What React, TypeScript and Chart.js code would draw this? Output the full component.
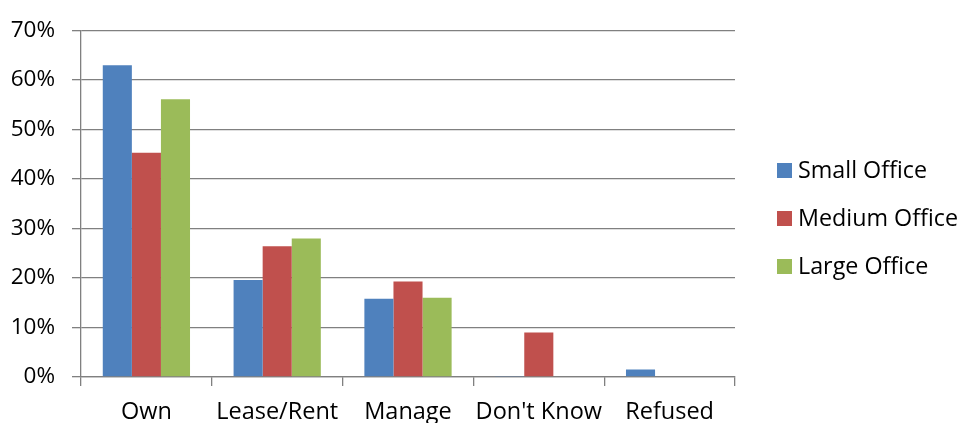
import React, { useEffect, useRef } from "react";
import { Chart, registerables } from "chart.js";

Chart.register(...registerables);

const categories = ["Own", "Lease/Rent", "Manage", "Don't Know", "Refused"];
const seriesNames = ["Small Office", "Medium Office", "Large Office"];
const smallOffice = [63.0, 19.6, 15.8, 0.2, 1.5];
const mediumOffice = [45.3, 26.4, 19.3, 9.0, 0];
const largeOffice = [56.1, 28.0, 16.0, 0, 0];
const seriesColors = ["#4F81BD", "#C0504D", "#9BBB59"];
const yTicks = [0, 10, 20, 30, 40, 50, 60, 70];

const FONT = "'Open Sans', sans-serif";
const Y_FONT_SIZE = 22.5;
const X_FONT_SIZE = 23.5;
const LEGEND_FONT_SIZE = 23.3;
const GRID_COLOR = "#808080";

const legendPlugin = {
  id: "customLegend",
  afterDraw(chart: any) {
    const ctx = chart.ctx;
    ctx.save();
    ctx.font = `${LEGEND_FONT_SIZE}px ${FONT}`;
    ctx.textBaseline = "middle";
    ctx.textAlign = "left";
    const x0 = 777;
    const yStart = 170;
    const step = 48;
    chart.data.datasets.forEach((ds: any, i: number) => {
      const y = yStart + i * step;
      ctx.fillStyle = ds.backgroundColor;
      ctx.fillRect(x0, y - 7, 15, 15);
      ctx.fillStyle = "#000";
      ctx.fillText(ds.label, x0 + 21, y + 1);
    });
    ctx.restore();
  },
};

export default function App() {
  const ref = useRef<HTMLCanvasElement | null>(null);
  useEffect(() => {
    if (!ref.current) return;
    const chart = new Chart(ref.current, {
      type: "bar",
      data: {
        labels: categories,
        datasets: [smallOffice, mediumOffice, largeOffice].map((d, i) => ({
          label: seriesNames[i],
          data: d,
          backgroundColor: seriesColors[i],
          borderWidth: 0,
          barPercentage: 1,
          categoryPercentage: 0.667,
        })),
      },
      options: {
        responsive: false,
        animation: false,
        layout: { padding: { left: 0, right: 226, top: 24, bottom: 0 } },
        plugins: {
          legend: { display: false },
          tooltip: { enabled: false },
        },
        scales: {
          x: {
            grid: {
              drawOnChartArea: false,
              drawTicks: true,
              tickLength: 9,
              color: GRID_COLOR,
              lineWidth: 1.3,
            },
            border: { color: GRID_COLOR, width: 1.3 },
            ticks: {
              color: "#000",
              font: { family: FONT, size: X_FONT_SIZE },
              padding: 12,
              maxRotation: 0,
              autoSkip: false,
            },
            afterFit(scale: any) {
              scale.height = 46;
            },
          },
          y: {
            min: 0,
            max: 70,
            afterBuildTicks(scale: any) {
              scale.ticks = yTicks.map((v) => ({ value: v }));
            },
            grid: {
              drawTicks: true,
              tickLength: 9,
              color: GRID_COLOR,
              lineWidth: 1.3,
            },
            border: { color: GRID_COLOR, width: 1.3 },
            ticks: {
              color: "#000",
              font: { family: FONT, size: Y_FONT_SIZE },
              padding: 17,
              callback: (v: any) => `${v}%`,
            },
            afterFit(scale: any) {
              scale.width = 81;
            },
          },
        },
      },
      plugins: [legendPlugin],
    });
    return () => chart.destroy();
  }, []);
  return (
    <div style={{ position: "fixed", left: 0, top: 0, width: 961, height: 423, background: "#fff" }}>
      <canvas ref={ref} width={961} height={423} style={{ width: 961, height: 423, display: "block" }} />
    </div>
  );
}
